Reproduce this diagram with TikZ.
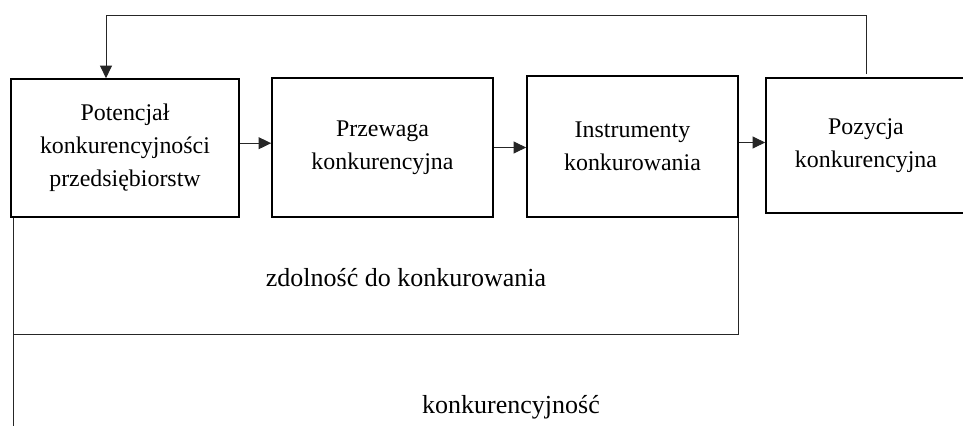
\documentclass[tikz,border=0pt]{standalone}
\usepackage{fontspec}
\setmainfont{Liberation Serif}
\usepackage{tikz}
\usetikzlibrary{arrows.meta,positioning,calc}
\tikzset{
  box/.style={rectangle, draw, line width=1.1pt, align=center, inner sep=0pt, font=\fontsize{17}{23.5}\selectfont},
  label/.style={font=\fontsize{18.5}{22}\selectfont, anchor=base},
  link/.style={line width=0.7pt, draw=black!85},
  arrow/.style={link, -{Triangle[length=9pt, width=8.5pt]}},
}

\begin{document}
\begin{tikzpicture}[x=0.025cm, y=-0.025cm]
  \useasboundingbox (0,0) rectangle (963,426);

  % Chain of boxes
  \node[box, minimum width=5.7cm, minimum height=3.45cm] (pot) at (125,148)
    {Potencjał\\konkurencyjności\\przedsiębiorstw};
  \node[box, minimum width=5.525cm, minimum height=3.475cm] (prz) at (382.5,147.5)
    {Przewaga\\konkurencyjna};
  \node[box, minimum width=5.275cm, minimum height=3.525cm] (ins) at (632.5,146.5)
    {Instrumenty\\konkurowania};
  \node[box, minimum width=5.0cm, minimum height=3.375cm] (poz) at (866,145.5)
    {Pozycja\\konkurencyjna};

  % Arrows between the boxes
  \draw[arrow] ([yshift=0.12cm]pot.east) -- ([yshift=0.12cm]pot.east -| prz.west);
  \draw[arrow] (prz.east) -- (prz.east -| ins.west);
  \draw[arrow] ([yshift=0.1cm]ins.east) -- ([yshift=0.1cm]ins.east -| poz.west);

  % Feedback loop over the top
  \coordinate (back) at (106,15);
  \draw[arrow] ([yshift=0.08cm]poz.north) |- (back) -- (back |- pot.north);

  % Brackets under the chain
  \coordinate (zdol) at (13.5,334);
  \coordinate (konk) at (13.5,426);
  \draw[link] (pot.south west -| zdol) -- (zdol) -- (konk);
  \draw[link] (zdol) -| (ins.south east);

  \node[label] (zdolnosc) at (406,287) {zdolność do konkurowania};
  \node[label] (konkurencyjnosc) at (511,413) {konkurencyjność};
\end{tikzpicture}
\end{document}
